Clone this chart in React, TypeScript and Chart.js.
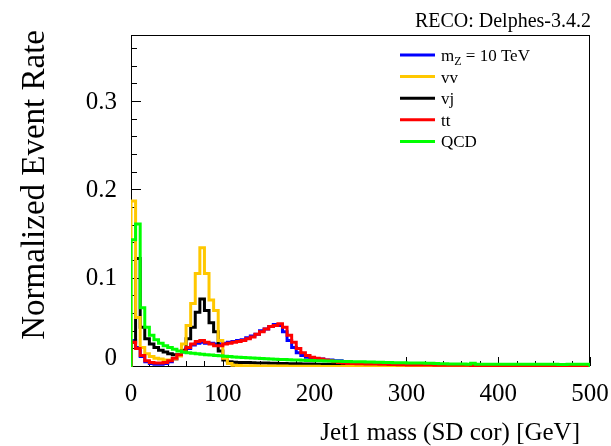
import { useEffect, useRef } from 'react';
import { Chart, registerables } from 'chart.js';
Chart.register(...registerables);

// ---- data (5 GeV bins, 0..500 GeV) ----
const BIN_WIDTH = 5;
const X_MIN = 0;
const X_MAX = 500;
const Y_MAX = 0.376;
const X_TICK_STEP = 100;
const Y_TICK_STEP = 0.1;

const signal = [
  0.030, 0.022, 0.012, 0.006, 0.004, 0.003, 0.003, 0.004, 0.006, 0.009,
  0.013, 0.017, 0.021, 0.025, 0.027, 0.028, 0.027, 0.027, 0.026, 0.026,
  0.027, 0.028, 0.029, 0.030, 0.031, 0.033, 0.035, 0.037, 0.041, 0.043,
  0.046, 0.048, 0.047, 0.040, 0.030, 0.022, 0.016, 0.013, 0.011, 0.010,
  0.009, 0.009, 0.008, 0.008, 0.007, 0.007, 0.005, 0.006, 0.0045, 0.004,
  0.004, 0.0038, 0.0035, 0.0033, 0.003, 0.003, 0.0028, 0.0026, 0.0025, 0.0024,
  0.0022, 0.0022, 0.0021, 0.0021, 0.002, 0.002, 0.0019, 0.0019, 0.0018, 0.0018,
  0.0018, 0.0017, 0.0017, 0.0017, 0.0016, 0.0016, 0.0016, 0.0016, 0.0015, 0.0015,
  0.0014, 0.0014, 0.0013, 0.0013, 0.0012, 0.0012, 0.0011, 0.0011, 0.0011, 0.001,
  0.001, 0.001, 0.0009, 0.0009, 0.0009, 0.0008, 0.0008, 0.0008, 0.0008, 0.0008,
];

const vv = [
  0.188, 0.056, 0.022, 0.015, 0.012, 0.010, 0.009, 0.008, 0.008, 0.009,
  0.0125, 0.026, 0.047, 0.072, 0.106, 0.135, 0.106, 0.076, 0.064, 0.030,
  0.010, 0.004, 0.002, 0.0018, 0.0015, 0.0014, 0.0013, 0.0012, 0.0012, 0.0011,
  0.0011, 0.001, 0.001, 0.001, 0.0009, 0.0009, 0.0009, 0.0008, 0.0008, 0.0008,
  0.0008, 0.0007, 0.0007, 0.0007, 0.0007, 0.0006, 0.0006, 0.0006, 0.0006, 0.0006,
  0.0006, 0.0005, 0.0005, 0.0005, 0.0005, 0.0005, 0.0005, 0.0005, 0.0005, 0.0005,
  0.0004, 0.0004, 0.0004, 0.0004, 0.0004, 0.0004, 0.0004, 0.0004, 0.0004, 0.0004,
  0.0003, 0.0003, 0.0003, 0.0003, 0.0003, 0.0003, 0.0003, 0.0003, 0.0003, 0.0003,
  0.0003, 0.0003, 0.0002, 0.0002, 0.0002, 0.0002, 0.0002, 0.0002, 0.0002, 0.0002,
  0.0002, 0.0002, 0.0002, 0.0002, 0.0002, 0.0002, 0.0002, 0.0002, 0.0002, 0.0002,
];

const vj = [
  0.028, 0.123, 0.045, 0.032, 0.026, 0.022, 0.019, 0.017, 0.015, 0.014,
  0.014, 0.019, 0.032, 0.045, 0.062, 0.077, 0.064, 0.050, 0.040, 0.018,
  0.008, 0.006, 0.0055, 0.005, 0.005, 0.005, 0.0048, 0.0046, 0.0045, 0.0044,
  0.0043, 0.0042, 0.004, 0.004, 0.0038, 0.0037, 0.0036, 0.0035, 0.0034, 0.0033,
  0.0032, 0.0031, 0.003, 0.003, 0.0029, 0.0029, 0.0028, 0.0028, 0.0027, 0.0027,
  0.0026, 0.0026, 0.0025, 0.0025, 0.0024, 0.0024, 0.0023, 0.0023, 0.0022, 0.0022,
  0.0021, 0.0021, 0.002, 0.002, 0.002, 0.0019, 0.0019, 0.0019, 0.0018, 0.0018,
  0.0018, 0.0017, 0.0017, 0.0017, 0.0016, 0.0016, 0.0016, 0.0015, 0.0015, 0.0015,
  0.0014, 0.0014, 0.0014, 0.0013, 0.0013, 0.0013, 0.0012, 0.0012, 0.0012, 0.0011,
  0.0011, 0.0011, 0.001, 0.001, 0.001, 0.0009, 0.0009, 0.0009, 0.0008, 0.0008,
];

const tt = [
  0.028, 0.021, 0.013, 0.007, 0.005, 0.0045, 0.0045, 0.005, 0.007, 0.010,
  0.014, 0.018, 0.022, 0.026, 0.029, 0.030, 0.028, 0.026, 0.024, 0.024,
  0.026, 0.027, 0.028, 0.029, 0.030, 0.032, 0.034, 0.037, 0.040, 0.043,
  0.046, 0.047, 0.049, 0.045, 0.036, 0.028, 0.021, 0.016, 0.013, 0.011,
  0.010, 0.009, 0.008, 0.007, 0.006, 0.005, 0.0045, 0.004, 0.004, 0.0038,
  0.0036, 0.0035, 0.0034, 0.0033, 0.003, 0.003, 0.0028, 0.0027, 0.0026, 0.0025,
  0.0024, 0.0024, 0.0023, 0.0023, 0.0022, 0.0022, 0.0021, 0.0021, 0.002, 0.002,
  0.002, 0.0019, 0.0019, 0.0019, 0.0018, 0.0018, 0.0018, 0.0017, 0.0017, 0.0016,
  0.0012, 0.0012, 0.0011, 0.0011, 0.0011, 0.001, 0.001, 0.001, 0.001, 0.001,
  0.0006, 0.0006, 0.0005, 0.0005, 0.0005, 0.0005, 0.0004, 0.0004, 0.0004, 0.0004,
];

const qcd = [
  0.144, 0.162, 0.067, 0.045, 0.036, 0.031, 0.027, 0.024, 0.022, 0.020,
  0.018, 0.017, 0.016, 0.0155, 0.015, 0.0145, 0.014, 0.0135, 0.013, 0.0128,
  0.0122, 0.0118, 0.0114, 0.011, 0.0107, 0.0104, 0.0101, 0.0098, 0.0095, 0.0093,
  0.009, 0.0088, 0.0086, 0.0084, 0.0082, 0.008, 0.0078, 0.0076, 0.0075, 0.0073,
  0.0072, 0.007, 0.0069, 0.0068, 0.0066, 0.0065, 0.0063, 0.0062, 0.006, 0.006,
  0.0059, 0.0058, 0.0056, 0.0055, 0.0053, 0.0052, 0.005, 0.0049, 0.0048, 0.0047,
  0.0046, 0.0045, 0.0045, 0.0044, 0.0043, 0.0042, 0.004, 0.0038, 0.0036, 0.0035,
  0.0034, 0.0033, 0.0033, 0.0032, 0.0042, 0.0032, 0.0031, 0.0031, 0.0031, 0.003,
  0.003, 0.003, 0.003, 0.003, 0.0031, 0.003, 0.003, 0.003, 0.003, 0.003,
  0.003, 0.003, 0.003, 0.0029, 0.0029, 0.003, 0.003, 0.003, 0.003, 0.003,
];

const seriesLabels = ['m_Z = 10 TeV', 'vv', 'vj', 'tt', 'QCD'];
const seriesColors = ['#0000ff', '#ffc800', '#000000', '#ff0000', '#00ff00'];
const seriesValues = [signal, vv, vj, tt, qcd];
// lower order = drawn on top (green on top, then red, yellow, black, blue)
const seriesOrder = [4, 2, 3, 1, 0];

const HEADER_TEXT = 'RECO: Delphes-3.4.2';
const X_TITLE = 'Jet1 mass (SD cor) [GeV]';
const Y_TITLE = 'Normalized Event Rate';

const FONT = '"Liberation Serif", "Times New Roman", serif';

// histogram outline: starts at 0 on the left edge, one point per bin low edge,
// then the last bin's upper edge and back down to 0.
function histPoints(values: number[]) {
  const pts: { x: number; y: number }[] = [{ x: X_MIN, y: 0 }];
  values.forEach((v, i) => pts.push({ x: X_MIN + i * BIN_WIDTH, y: v }));
  const end = X_MIN + values.length * BIN_WIDTH;
  pts.push({ x: end, y: values[values.length - 1] });
  pts.push({ x: end, y: 0 });
  return pts;
}

const rootStyle = {
  id: 'rootStyle',
  beforeDatasetsDraw(chart: any) {
    const { ctx, chartArea: a, scales } = chart;
    const x = scales.x;
    const y = scales.y;
    ctx.save();
    ctx.strokeStyle = '#000';
    ctx.lineWidth = 1;
    ctx.strokeRect(a.left + 0.5, a.top + 0.5, a.right - a.left - 1, a.bottom - a.top - 1);
    // x ticks (inward)
    for (let v = X_MIN; v <= X_MAX + 1e-9; v += 20) {
      const major = Math.abs(v % X_TICK_STEP) < 1e-9;
      const px = Math.round(x.getPixelForValue(v)) + 0.5;
      const len = major ? 9 : 5;
      ctx.beginPath();
      ctx.moveTo(px, a.bottom - 1);
      ctx.lineTo(px, a.bottom - 1 - len);
      ctx.stroke();
    }
    // y ticks (inward)
    for (let i = 0; i * 0.02 <= Y_MAX; i++) {
      const v = i * 0.02;
      const major = i % 5 === 0;
      const py = Math.round(y.getPixelForValue(v)) - 0.5;
      const len = major ? 9 : 5;
      ctx.beginPath();
      ctx.moveTo(a.left + 1, py);
      ctx.lineTo(a.left + 1 + len, py);
      ctx.stroke();
    }
    ctx.restore();
  },
  afterDraw(chart: any) {
    const { ctx, scales } = chart;
    const y = scales.y;
    ctx.save();
    ctx.fillStyle = '#000';
    // y zero label (ROOT lifts it above the x axis)
    ctx.font = `25px ${FONT}`;
    ctx.textAlign = 'right';
    ctx.textBaseline = 'middle';
    ctx.fillText('0', 117, y.getPixelForValue(0) - 9);

    // header
    ctx.font = `20px ${FONT}`;
    ctx.textAlign = 'right';
    ctx.textBaseline = 'alphabetic';
    ctx.fillText(HEADER_TEXT, 591, 27);

    // x title
    ctx.font = `25px ${FONT}`;
    ctx.textAlign = 'right';
    ctx.fillText(X_TITLE, 580, 440);

    // y title
    ctx.save();
    ctx.translate(43.5, 30);
    ctx.rotate(-Math.PI / 2);
    ctx.font = `33px ${FONT}`;
    ctx.textAlign = 'right';
    ctx.textBaseline = 'alphabetic';
    ctx.fillText(Y_TITLE, 0, 0);
    ctx.restore();

    // legend
    const rowY0 = 55;
    const rowDy = 21.6;
    seriesLabels.forEach((label, i) => {
      const ry = rowY0 + i * rowDy;
      ctx.strokeStyle = seriesColors[i];
      ctx.lineWidth = 3;
      ctx.beginPath();
      ctx.moveTo(400, ry);
      ctx.lineTo(435, ry);
      ctx.stroke();
      ctx.fillStyle = '#000';
      ctx.textAlign = 'left';
      ctx.textBaseline = 'alphabetic';
      const base = ry + 6;
      if (label.includes('_')) {
        const [main, rest] = label.split('_');
        const sub = rest.charAt(0);
        const tail = rest.slice(1);
        ctx.font = `17px ${FONT}`;
        let tx = 441;
        ctx.fillText(main, tx, base);
        tx += ctx.measureText(main).width;
        ctx.font = `12px ${FONT}`;
        ctx.fillText(sub, tx, base + 4);
        tx += ctx.measureText(sub).width;
        ctx.font = `17px ${FONT}`;
        ctx.fillText(tail, tx, base);
      } else {
        ctx.font = `17px ${FONT}`;
        ctx.fillText(label, 441, base);
      }
    });
    ctx.restore();
  },
};

export default function App() {
  const ref = useRef<HTMLCanvasElement | null>(null);
  useEffect(() => {
    if (!ref.current) return;
    const chart = new Chart(ref.current, {
      type: 'line',
      data: {
        datasets: seriesValues.map((vals, i) => ({
          label: seriesLabels[i],
          data: histPoints(vals),
          borderColor: seriesColors[i],
          backgroundColor: seriesColors[i],
          borderWidth: 3,
          pointRadius: 0,
          fill: false,
          stepped: 'before' as const,
          order: seriesOrder[i],
          borderJoinStyle: 'miter' as const,
        })),
      },
      options: {
        responsive: false,
        animation: false,
        events: [],
        layout: { padding: { left: 0, top: 35, right: 21, bottom: 0 } },
        plugins: { legend: { display: false }, tooltip: { enabled: false } },
        scales: {
          x: {
            type: 'linear',
            min: X_MIN,
            max: X_MAX,
            grid: { display: false, drawTicks: false },
            border: { display: false },
            ticks: {
              stepSize: X_TICK_STEP,
              includeBounds: false,
              padding: 12,
              color: '#000',
              font: { family: FONT, size: 25 },
              maxRotation: 0,
              autoSkip: false,
            },
            afterFit: (s: any) => {
              s.height = 446 - 367;
              s.paddingLeft = 0;
              s.paddingRight = 0;
            },
          },
          y: {
            type: 'linear',
            min: 0,
            max: Y_MAX,
            grid: { display: false, drawTicks: false },
            border: { display: false },
            ticks: {
              stepSize: Y_TICK_STEP,
              includeBounds: false,
              padding: 14,
              color: '#000',
              font: { family: FONT, size: 25 },
              callback: (v: any) => (Number(v) === 0 ? '' : Number(v).toFixed(1)),
            },
            afterFit: (s: any) => {
              s.width = 131;
              s.paddingTop = 0;
              s.paddingBottom = 0;
            },
          },
        },
      },
      plugins: [rootStyle],
    });
    return () => chart.destroy();
  }, []);
  return (
    <div style={{ position: 'absolute', left: 0, top: 0, width: 611, height: 446, background: '#fff' }}>
      <canvas ref={ref} width={611} height={446} />
    </div>
  );
}
